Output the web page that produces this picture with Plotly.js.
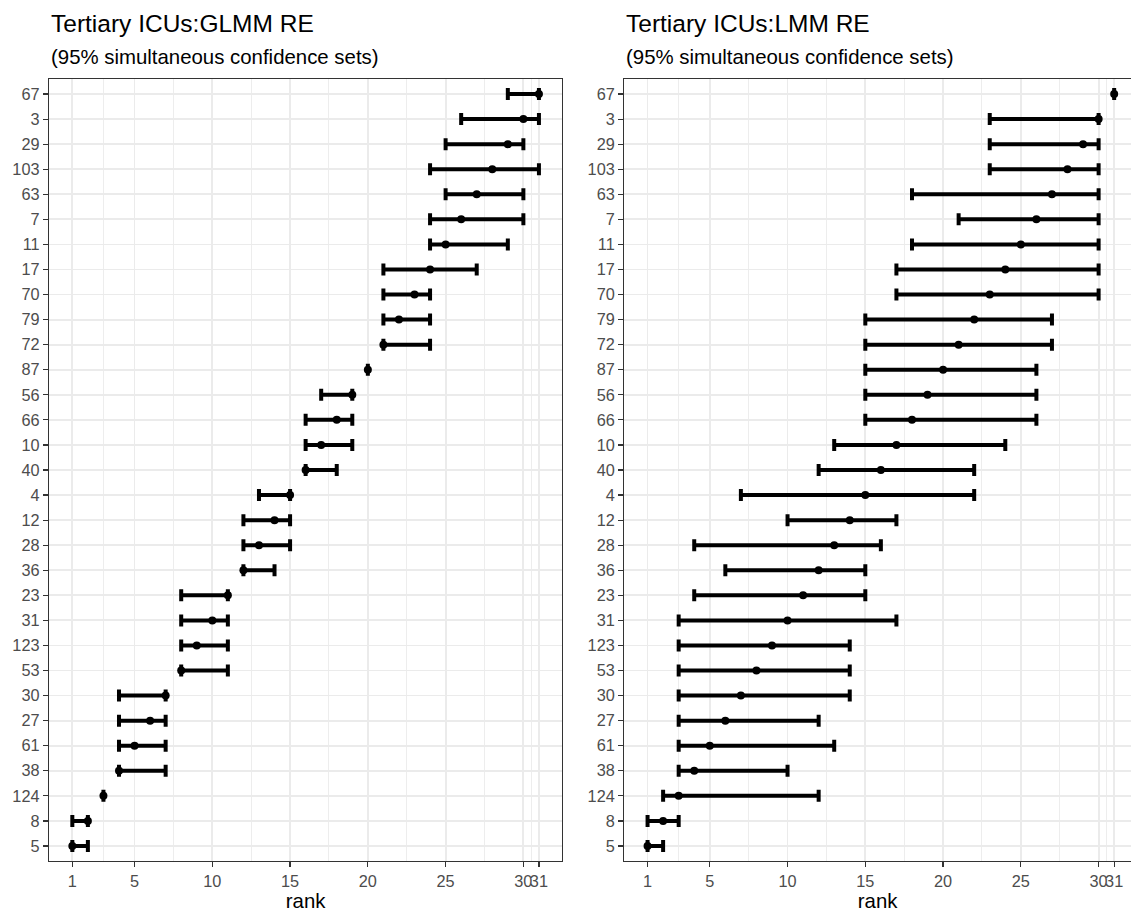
<!DOCTYPE html>
<html>
<head>
<meta charset="utf-8">
<script src="https://cdn.plot.ly/plotly-3.0.1.min.js"></script>
<style>
  html, body { margin: 0; padding: 0; background: #ffffff; }
  #chart { width: 1131px; height: 912px; }
</style>
</head>
<body>
<div id="chart"></div>
<script>
// ICU identifiers, ordered from the best rank (bottom) to the worst (top)
const icu = ['5', '8', '124', '38', '61', '27', '30', '53', '123', '31', '23',
             '36', '28', '12', '4', '40', '10', '66', '56', '87', '72', '79',
             '70', '17', '11', '7', '63', '103', '29', '3', '67'];

// GLMM random effects: estimated rank and 95% simultaneous confidence set
const rankGLMM  = [1, 2, 3, 4, 5, 6, 7, 8, 9, 10, 11, 12, 13, 14, 15, 16,
                   17, 18, 19, 20, 21, 22, 23, 24, 25, 26, 27, 28, 29, 30, 31];
const lowerGLMM = [1, 1, 3, 4, 4, 4, 4, 8, 8, 8, 8, 12, 12, 12, 13, 16,
                   16, 16, 17, 20, 21, 21, 21, 21, 24, 24, 25, 24, 25, 26, 29];
const upperGLMM = [2, 2, 3, 7, 7, 7, 7, 11, 11, 11, 11, 14, 15, 15, 15, 18,
                   19, 19, 19, 20, 24, 24, 24, 27, 29, 30, 30, 31, 30, 31, 31];

// LMM random effects: estimated rank and 95% simultaneous confidence set
const rankLMM  = [1, 2, 3, 4, 5, 6, 7, 8, 9, 10, 11, 12, 13, 14, 15, 16,
                  17, 18, 19, 20, 21, 22, 23, 24, 25, 26, 27, 28, 29, 30, 31];
const lowerLMM = [1, 1, 2, 3, 3, 3, 3, 3, 3, 3, 4, 6, 4, 10, 7, 12,
                  13, 15, 15, 15, 15, 15, 17, 17, 18, 21, 18, 23, 23, 23, 31];
const upperLMM = [2, 3, 12, 10, 13, 12, 14, 14, 14, 17, 15, 15, 16, 17, 22, 22,
                  24, 26, 26, 26, 27, 27, 30, 30, 30, 30, 30, 30, 30, 30, 31];

// Axis breaks on the rank scale
const rankTicks = [1, 5, 10, 15, 20, 25, 30, 31];
const rankMinor = [3, 7.5, 12.5, 17.5, 22.5, 27.5, 30.5];

const panelTitles = ['Tertiary ICUs:GLMM RE', 'Tertiary ICUs:LMM RE'];
const panelSubtitle = '(95% simultaneous confidence sets)';

// ---- page geometry (pixels) ----
const W = 1131, H = 912;
const M = { l: 48.5, r: 0, t: 78.5, b: 51 };
const plotW = W - M.l - M.r, plotH = H - M.t - M.b;
const px2x = p => (p - M.l) / plotW;         // page x -> paper x
const px2y = p => (H - M.b - p) / plotH;     // page y -> paper y

const FONT = 'Liberation Sans, Arial, Helvetica, sans-serif';
const BORDER = '#333333';
const GRID = '#EBEBEB';

function rankTrace(rank, lower, upper, xa, ya) {
  return {
    type: 'scatter', mode: 'markers',
    x: rank, y: icu, xaxis: xa, yaxis: ya,
    marker: { color: '#000000', size: 8 },
    error_x: {
      type: 'data', symmetric: false,
      array: upper.map((u, i) => u - rank[i]),
      arrayminus: rank.map((r, i) => r - lower[i]),
      color: '#000000', thickness: 4, width: 6
    },
    hoverinfo: 'x+y'
  };
}

function rankAxis(domain, range, anchor, mirror) {
  return {
    domain: domain, range: range, anchor: anchor,
    tickmode: 'array', tickvals: rankTicks, ticktext: rankTicks.map(String),
    tickangle: 0,
    showgrid: true, gridcolor: GRID, gridwidth: 1.8,
    minor: { tickvals: rankMinor, showgrid: true, gridcolor: GRID, gridwidth: 0.9, ticks: '' },
    zeroline: false,
    showline: true, mirror: mirror, linecolor: BORDER, linewidth: 1.2,
    ticks: 'outside', ticklen: 5, tickwidth: 1.2, tickcolor: BORDER,
    tickfont: { family: FONT, size: 16.3, color: '#4D4D4D' },
    title: { text: 'rank', font: { family: FONT, size: 20.4, color: '#000000' }, standoff: 6 }
  };
}

function icuAxis(anchor, mirror) {
  return {
    domain: [0, 1], anchor: anchor,
    type: 'category', categoryorder: 'array', categoryarray: icu,
    range: [-0.6, icu.length - 0.4],
    tickmode: 'array', tickvals: icu, ticktext: icu,
    showgrid: true, gridcolor: GRID, gridwidth: 1.8,
    zeroline: false,
    showline: true, mirror: mirror, linecolor: BORDER, linewidth: 1.2,
    ticks: 'outside', ticklen: 5, tickwidth: 1.2, tickcolor: BORDER,
    tickfont: { family: FONT, size: 16.3, color: '#4D4D4D' }
  };
}

const leftX0 = 48.5, leftX1 = 562, rightX0 = 624;
const unitPx = (leftX1 - leftX0) / 33;   // pixels per rank unit

const data = [
  rankTrace(rankGLMM, lowerGLMM, upperGLMM, 'x', 'y'),
  rankTrace(rankLMM, lowerLMM, upperLMM, 'x2', 'y2')
];

function titleAnnotations(xPx, title) {
  return [
    { text: title, xref: 'paper', yref: 'paper', x: px2x(xPx), y: px2y(23.2),
      xanchor: 'left', yanchor: 'middle', showarrow: false,
      font: { family: FONT, size: 24.5, color: '#000000' } },
    { text: panelSubtitle, xref: 'paper', yref: 'paper', x: px2x(xPx), y: px2y(56.2),
      xanchor: 'left', yanchor: 'middle', showarrow: false,
      font: { family: FONT, size: 20.4, color: '#000000' } }
  ];
}

const layout = {
  width: W, height: H,
  margin: M,
  paper_bgcolor: '#ffffff', plot_bgcolor: '#ffffff',
  showlegend: false,
  font: { family: FONT },
  xaxis: rankAxis([px2x(leftX0), px2x(leftX1)], [-0.5, 32.5], 'y', true),
  yaxis: icuAxis('x', true),
  xaxis2: rankAxis([px2x(rightX0), 1], [-0.5, -0.5 + (W - rightX0) / unitPx], 'y2', true),
  yaxis2: icuAxis('x2', false),
  annotations: [].concat(
    titleAnnotations(leftX0 - 0.5, panelTitles[0]),
    titleAnnotations(rightX0 - 0.5, panelTitles[1])
  )
};

Plotly.newPlot('chart', data, layout, { displayModeBar: false, staticPlot: true });
</script>
</body>
</html>
